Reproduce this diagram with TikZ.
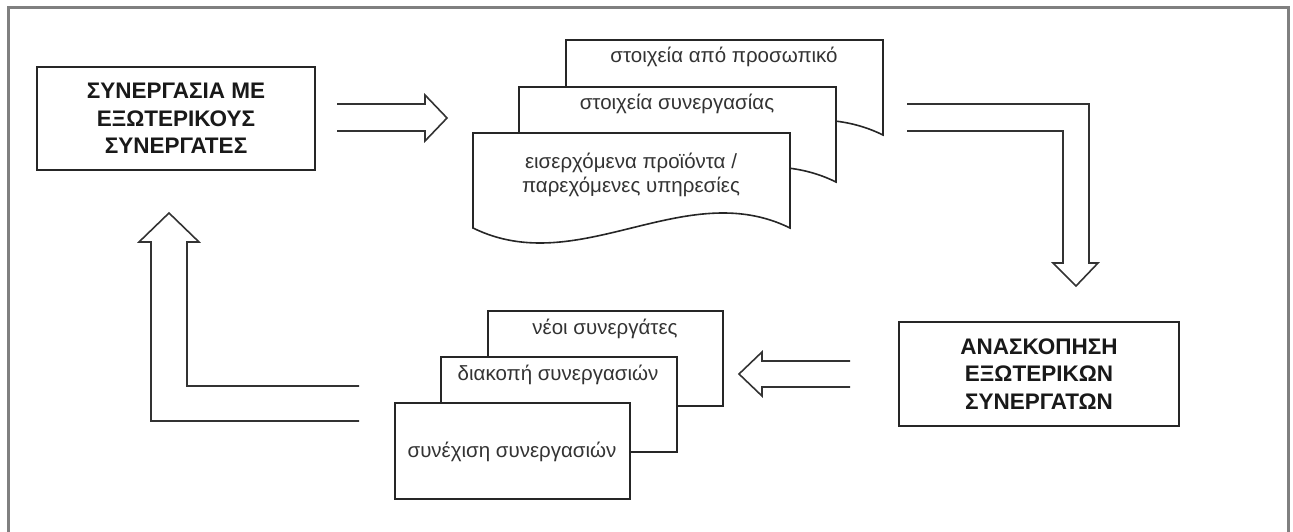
\documentclass[tikz,border=0pt]{standalone}
\usepackage{fontspec}
\setmainfont{Liberation Sans}
\begin{document}
\begin{tikzpicture}[x=1pt,y=-1pt,line join=miter,
  frame/.style={draw=black!50,line width=3pt},
  outline/.style={draw=black!85,line width=1.6pt},
  blockarrow/.style={draw=black!80,line width=1.6pt},
  bigbox/.style={outline,fill=white,align=center,inner sep=0pt,
    font=\bfseries\fontsize{22.5}{27.5}\selectfont,text=black!90},
  doctext/.style={align=center,inner sep=0pt,
    font=\fontsize{20.5}{24}\selectfont,text=black!80}]
\useasboundingbox (0,0) rectangle (1293,532);

% outer frame (its lower edge runs off the page)
\draw[frame] (8,8) rectangle (1288,560);

% main boxes
\node[bigbox,minimum width=278pt,minimum height=103pt] (coop) at (176,118.5)
  {ΣΥΝΕΡΓΑΣΙΑ ΜΕ\\ΕΞΩΤΕΡΙΚΟΥΣ\\ΣΥΝΕΡΓΑΤΕΣ};
\node[bigbox,minimum width=280pt,minimum height=104pt] (review) at (1039,374)
  {ΑΝΑΣΚΟΠΗΣΗ\\ΕΞΩΤΕΡΙΚΩΝ\\ΣΥΝΕΡΓΑΤΩΝ};

% stacked document shapes (back to front)
\newcommand\docshape[2]{%
  \begin{scope}[shift={(#1,#2)}]
    \draw[outline,fill=white] (0,95) -- (0,0) -- (317,0) -- (317,95)
      .. controls (211.3,43) and (105.7,147) .. (0,95) -- cycle;
  \end{scope}}
\docshape{566}{40}
\docshape{519}{87}
\docshape{473}{133}
\node[doctext] (docA) at (724,57) {στοιχεία από προσωπικό};
\node[doctext] (docB) at (677,104) {στοιχεία συνεργασίας};
\node[doctext] (docC) at (631,175) {εισερχόμενα προϊόντα /\\παρεχόμενες υπηρεσίες};

% stacked decision boxes (back to front)
\draw[outline,fill=white] (488,311) rectangle (723,406);
\draw[outline,fill=white] (441,357) rectangle (677,452);
\draw[outline,fill=white] (395,403) rectangle (630,499);
\node[doctext] (decA) at (605,329) {νέοι συνεργάτες};
\node[doctext] (decB) at (558,375) {διακοπή συνεργασιών};
\node[doctext] (decC) at (512,452) {συνέχιση συνεργασιών};

% block arrows (open tails)
\draw[blockarrow] (337,104) -- (425,104) -- (425,95) -- (447,118)
  -- (425,141) -- (425,131) -- (337,131);
\draw[blockarrow] (907,104) -- (1089,104) -- (1089,263) -- (1098,263)
  -- (1076,286) -- (1053,263) -- (1063,263) -- (1063,131) -- (907,131);
\draw[blockarrow] (850,361) -- (762,361) -- (762,352) -- (739,374)
  -- (762,396) -- (762,387) -- (850,387);
\draw[blockarrow] (359,386) -- (187,386) -- (187,242) -- (199,242)
  -- (169,213) -- (139,242) -- (151,242) -- (151,421) -- (359,421);
\end{tikzpicture}
\end{document}
